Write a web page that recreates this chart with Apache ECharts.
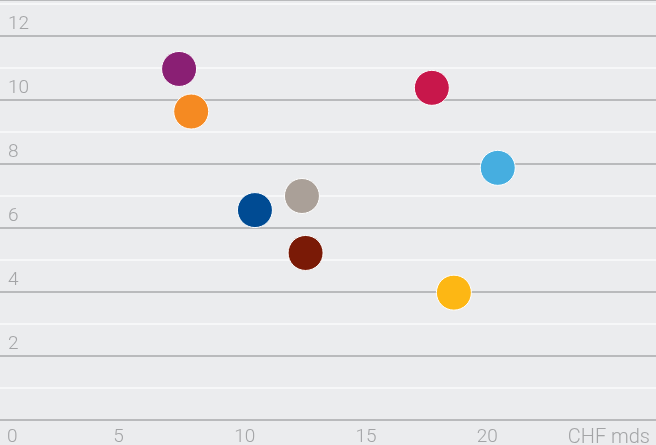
<!DOCTYPE html>
<html>
<head>
<meta charset="utf-8">
<script src="https://cdn.jsdelivr.net/npm/echarts@6/dist/echarts.min.js"></script>
<style>
  html, body { margin: 0; padding: 0; background: #ebecee; }
  #chart { width: 656px; height: 445px; }
</style>
</head>
<body>
<div id="chart"></div>
<script>
// Volume (CHF mds) against the vertical measure, one bubble per institution
const xValues = [7.72, 8.22, 18.15, 20.87, 10.85, 12.79, 12.94, 19.06];
const yValues = [10.97, 9.64, 10.38, 7.88, 6.56, 7.0, 5.22, 3.98];
const palette = ['#8a1f74', '#f58a22', '#c8174b', '#46aee0', '#004b93', '#aaa098', '#7a1a06', '#fdb714'];
const xTicks = [0, 5, 10, 15, 20];
const yTicks = [2, 4, 6, 8, 10, 12];
const xUnit = 'CHF mds';

const points = xValues.map((x, i) => ({
  value: [x, yValues[i]],
  itemStyle: { color: palette[i] }
}));

const labelColor = '#a3a4a6';
const labelFont = { fontFamily: 'Roboto', fontWeight: 300, fontSize: 19 };

const chart = echarts.init(document.getElementById('chart'), null, { renderer: 'canvas' });
chart.setOption({
  backgroundColor: '#ebecee',
  animation: false,
  grid: { left: -8, right: 0, top: 0, bottom: 25, outerBoundsMode: 'none', containLabel: false },
  xAxis: {
    type: 'value',
    min: 0,
    max: 27.4,
    interval: 5,
    axisLine: { show: false },
    axisTick: { show: false },
    splitLine: { show: false },
    name: xUnit,
    nameLocation: 'end',
    nameGap: -6,
    nameTextStyle: Object.assign({ color: labelColor, align: 'right', verticalAlign: 'top', padding: [8, 0, 0, 0] }, labelFont, { fontSize: 20 }),
    axisLabel: Object.assign({
      color: labelColor,
      align: 'left',
      margin: 8,
      formatter: v => {
        if (xTicks.indexOf(v) < 0) return '';
        return v === 0 ? '{z|0}' : String(v);
      },
      rich: { z: Object.assign({ color: labelColor, padding: [0, 0, 0, 15] }, labelFont) }
    }, labelFont)
  },
  yAxis: {
    type: 'value',
    min: 0,
    max: 13.125,
    interval: 1,
    axisLine: { show: false },
    axisTick: { show: false },
    splitLine: { show: true, lineStyle: { color: ['#b9babc', '#f6f7f8'], width: 2 } },
    axisLabel: Object.assign({
      inside: true,
      margin: 16,
      verticalAlign: 'bottom',
      align: 'left',
      padding: [0, 0, 2, 0],
      color: labelColor,
      interval: 0,
      formatter: v => (yTicks.indexOf(v) >= 0 ? String(v) : '')
    }, labelFont)
  },
  series: [{
    type: 'scatter',
    symbol: 'circle',
    symbolSize: 35,
    itemStyle: { borderColor: '#ffffff', borderWidth: 1, opacity: 1 },
    data: points
  }]
});
</script>
</body>
</html>
